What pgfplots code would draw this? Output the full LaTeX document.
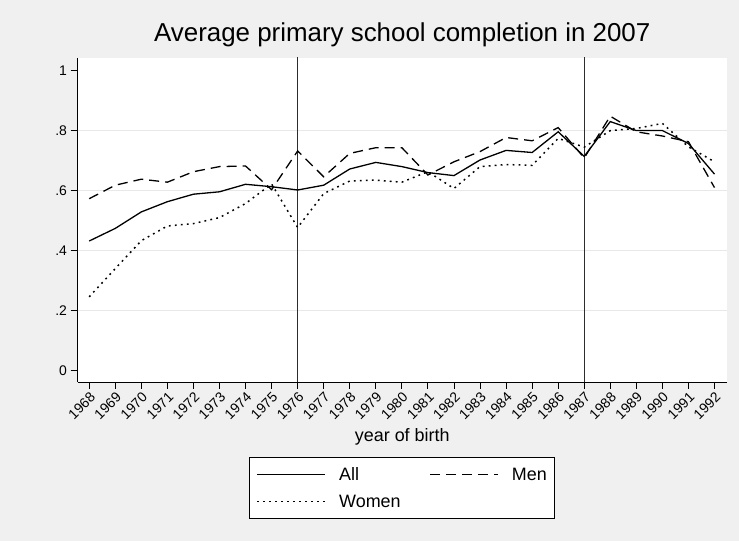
\documentclass[border=0pt]{standalone}
\usepackage{fontspec}
\setmainfont{Liberation Sans}
\usepackage{pgfplots}
\pgfplotsset{compat=1.18}
\usepackage{pgfplotstable}
\definecolor{bg}{RGB}{240,240,240}
\definecolor{gridc}{RGB}{232,232,232}
\definecolor{vline}{RGB}{45,45,45}

\pgfplotstableread{
year all men women
1968 0.432 0.573 0.246
1969 0.474 0.618 0.340
1970 0.529 0.638 0.433
1971 0.563 0.628 0.482
1972 0.588 0.663 0.490
1973 0.596 0.680 0.510
1974 0.621 0.682 0.557
1975 0.613 0.603 0.622
1976 0.602 0.732 0.477
1977 0.618 0.646 0.590
1978 0.672 0.724 0.632
1979 0.694 0.743 0.635
1980 0.680 0.743 0.628
1981 0.660 0.652 0.663
1982 0.650 0.696 0.607
1983 0.702 0.730 0.680
1984 0.734 0.777 0.687
1985 0.727 0.766 0.684
1986 0.796 0.810 0.774
1987 0.714 0.709 0.745
1988 0.830 0.848 0.800
1989 0.800 0.796 0.807
1990 0.800 0.782 0.824
1991 0.757 0.763 0.746
1992 0.655 0.610 0.696
}\data

\begin{document}
\begin{tikzpicture}
\fill[bg] (0,0) rectangle (739bp,541bp);
\useasboundingbox (0,0) rectangle (739bp,541bp);
\begin{axis}[
  at={(77.5bp,159bp)}, anchor=south west,
  scale only axis, width=649.5bp, height=324bp,
  xmin=1967.55, xmax=1992.48, ymin=-0.038, ymax=1.042,
  axis x line*=bottom, axis y line*=left,
  axis line style={black, line width=0.8bp},
  axis background/.style={fill=white},
  tick align=outside, major tick length=7bp,
  tick style={black, line width=0.8bp},
  xtick={1968,1969,...,1992},
  /pgf/number format/assume math mode=true,
  /pgf/number format/1000 sep={},
  xticklabel style={rotate=45, anchor=north east, inner sep=1.5bp, font=\fontsize{14}{14}\selectfont},
  ytick={0,0.2,0.4,0.6,0.8,1},
  yticklabels={0,.2,.4,.6,.8,1},
  yticklabel style={font=\fontsize{14}{14}\selectfont},
  extra y ticks={0.2,0.4,0.6,0.8},
  extra y tick labels={},
  extra y tick style={grid=major, major tick length=0pt},
  major grid style={gridc, line width=1.3bp},
  title={Average primary school completion in 2007},
  title style={font=\fontsize{26}{28}\selectfont, at={(axis description cs:0.5,1)}, anchor=base, yshift=11bp},
  xlabel={year of birth},
  xlabel style={font=\fontsize{18}{20}\selectfont, at={(axis description cs:0.5,-0.1698)}, anchor=center},
  legend columns=2,
  legend cell align=left,
  legend image code/.code={\draw[#1] (0bp,0bp) -- (68bp,0bp);},
  legend style={
    at={(axis description cs:0.5,-0.2315)}, anchor=north,
    draw=black, line width=0.7bp, fill=white,
    font=\fontsize{18}{20}\selectfont,
    inner xsep=7bp, inner ysep=9bp,
    row sep=11bp,
    nodes={inner sep=1bp, text height=13bp, text depth=1bp},
    /tikz/every odd column/.append style={column sep=12bp},
    /tikz/every even column/.append style={column sep=28bp},
  },
]
\addplot[vline, line width=1.4bp, forget plot] coordinates {(1976,-0.1) (1976,1.1)};
\addplot[vline, line width=1.4bp, forget plot] coordinates {(1987,-0.1) (1987,1.1)};
\addplot[black, line width=1.3bp] table[x=year, y=all] {\data};
\addlegendentry{All}
\addplot[black, line width=1.3bp, dash pattern=on 10bp off 6bp] table[x=year, y=men] {\data};
\addlegendentry{Men}
\addplot[black, line width=1.5bp, dash pattern=on 1.8bp off 4.2bp] table[x=year, y=women] {\data};
\addlegendentry{Women}
\end{axis}
\end{tikzpicture}
\end{document}
